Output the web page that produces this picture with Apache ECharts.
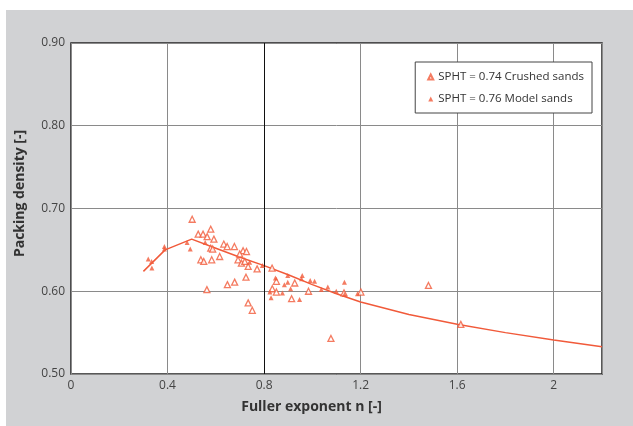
<!DOCTYPE html>
<html>
<head>
<meta charset="utf-8">
<script src="https://cdn.jsdelivr.net/npm/echarts@6/dist/echarts.min.js"></script>
<style>
  html, body { margin: 0; padding: 0; background: #fff; }
  #chart { width: 633px; height: 426px; }
</style>
</head>
<body>
<div id="chart"></div>
<script>
// SPHT = 0.74 Crushed sands (hollow triangles)
var crushedSands = [
  [0.502, 0.687], [0.527, 0.669], [0.547, 0.669], [0.579, 0.675], [0.564, 0.666],
  [0.592, 0.663], [0.538, 0.638], [0.550, 0.636], [0.583, 0.638], [0.563, 0.602],
  [0.633, 0.657], [0.647, 0.654], [0.677, 0.654], [0.579, 0.652], [0.587, 0.651],
  [0.616, 0.642], [0.713, 0.649], [0.727, 0.648], [0.699, 0.645], [0.692, 0.638],
  [0.706, 0.634], [0.720, 0.636], [0.734, 0.630], [0.771, 0.627], [0.833, 0.628],
  [0.725, 0.617], [0.648, 0.608], [0.678, 0.611], [0.734, 0.586], [0.751, 0.577],
  [0.851, 0.612], [0.834, 0.603], [0.851, 0.599], [0.927, 0.610], [0.914, 0.591],
  [0.984, 0.600], [1.131, 0.598], [1.077, 0.543], [1.201, 0.599], [1.481, 0.607],
  [1.615, 0.560]
];
// SPHT = 0.76 Model sands (filled triangles)
var modelSands = [
  [0.320, 0.639], [0.334, 0.636], [0.335, 0.628], [0.387, 0.654], [0.387, 0.651],
  [0.481, 0.659], [0.494, 0.651], [0.556, 0.659], [0.740, 0.635], [0.793, 0.631],
  [0.847, 0.616], [0.824, 0.599], [0.829, 0.592], [0.876, 0.598], [0.898, 0.619],
  [0.884, 0.608], [0.898, 0.611], [0.910, 0.603], [0.947, 0.590], [0.958, 0.619],
  [0.955, 0.615], [0.991, 0.613], [1.009, 0.612], [1.037, 0.602], [1.064, 0.605],
  [1.099, 0.600], [1.133, 0.611], [1.133, 0.596], [1.187, 0.597]
];
// fitted curve
var curveX = [0.30, 0.39, 0.50, 0.60, 0.70, 0.80, 0.90, 1.00, 1.10, 1.20, 1.40, 1.60, 1.80, 2.00, 2.20];
var curveY = [0.624, 0.650, 0.663, 0.652, 0.641, 0.631, 0.620, 0.608, 0.597, 0.587, 0.572, 0.560, 0.550, 0.541, 0.533];

var xTicks = [0, 0.4, 0.8, 1.2, 1.6, 2];
var yTicks = [0.5, 0.6, 0.7, 0.8, 0.9];

var red = '#f15a3a';
var curve = curveX.map(function (x, i) { return [x, curveY[i]]; });

var myChart = echarts.init(document.getElementById('chart'));
var option = {
  animation: false,
  backgroundColor: '#fff',
  textStyle: { fontFamily: 'Open Sans' },
  graphic: [{
    type: 'rect', z: -10, silent: true,
    shape: { x: 6, y: 10, width: 640, height: 430 },
    style: { fill: '#d1d2d4' }
  }],
  grid: {
    left: 71, right: 31, top: 43, bottom: 52,
    show: true, backgroundColor: '#fff', borderColor: '#222', borderWidth: 1.5
  },
  legend: {
    orient: 'vertical',
    right: 41, top: 62,
    data: ['SPHT = 0.74 Crushed sands', 'SPHT = 0.76 Model sands'],
    backgroundColor: '#fff',
    borderColor: '#444', borderWidth: 1,
    padding: [9, 8, 8, 12],
    itemGap: 10,
    itemWidth: 5, itemHeight: 5,
    textStyle: { fontSize: 11.5, color: '#333', fontFamily: 'Open Sans' }
  },
  xAxis: {
    type: 'value', min: 0, max: 2.2, interval: 0.4,
    name: 'Fuller exponent n [-]', nameLocation: 'middle', nameGap: 26,
    nameTextStyle: { fontSize: 14, fontWeight: 'bold', color: '#333', padding: [0, 50, 0, 0] },
    axisLine: { show: false },
    axisTick: { show: false },
    axisLabel: {
      color: '#444', fontSize: 12, margin: 6, showMaxLabel: false,
      formatter: function (v) { return xTicks.indexOf(Math.round(v * 10) / 10) >= 0 ? String(Math.round(v * 10) / 10) : ''; }
    },
    splitLine: { lineStyle: { color: '#8a8a8a', width: 1 } }
  },
  yAxis: {
    type: 'value', min: 0.5, max: 0.9, interval: 0.1,
    name: 'Packing density [-]', nameLocation: 'middle', nameGap: 44,
    nameTextStyle: { fontSize: 14, fontWeight: 'bold', color: '#333', padding: [0, 0, 0, 30] },
    axisLine: { show: false },
    axisTick: { show: false },
    axisLabel: {
      color: '#444', fontSize: 12, margin: 6,
      formatter: function (v) { return v.toFixed(2); }
    },
    splitLine: { lineStyle: { color: '#8a8a8a', width: 1 } }
  },
  series: [
    {
      name: 'fit',
      type: 'line',
      data: curve,
      showSymbol: false,
      silent: true,
      lineStyle: { color: red, width: 1.5 },
      z: 3,
      markLine: {
        silent: true, symbol: 'none', label: { show: false },
        lineStyle: { color: '#111', type: 'solid', width: 1 },
        data: [{ xAxis: 0.8 }]
      }
    },
    {
      name: 'SPHT = 0.74 Crushed sands',
      type: 'scatter',
      symbol: 'triangle',
      symbolSize: 6,
      data: crushedSands,
      itemStyle: { color: '#fff', borderColor: red, borderWidth: 1.3 },
      z: 4
    },
    {
      name: 'SPHT = 0.76 Model sands',
      type: 'scatter',
      symbol: 'triangle',
      symbolSize: 5,
      data: modelSands,
      itemStyle: { color: red },
      z: 5
    }
  ]
};
myChart.setOption(option);
</script>
</body>
</html>
